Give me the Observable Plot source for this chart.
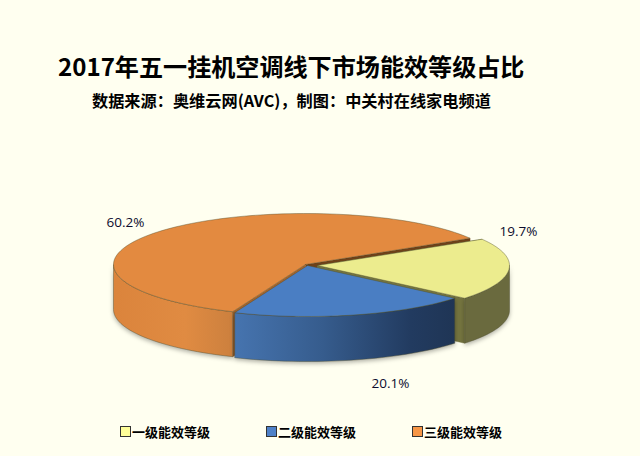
<!DOCTYPE html>
<html lang="zh">
<head>
<meta charset="utf-8">
<script src="https://cdn.jsdelivr.net/npm/d3@7"></script>
<script src="https://cdn.jsdelivr.net/npm/@observablehq/plot@0.6"></script>
<style>
html,body{margin:0;padding:0;background:#FFFFF0;}
#page{position:relative;width:640px;height:456px;overflow:hidden;font-family:"Noto Sans CJK SC",sans-serif;color:#000;}
#title{position:absolute;left:58px;top:48px;font-size:24.1px;line-height:36px;font-weight:700;white-space:nowrap;}
#subtitle{position:absolute;left:92px;top:88px;font-family:"Noto Sans CJK TC",sans-serif;font-size:16.2px;line-height:24px;font-weight:700;white-space:nowrap;}
#chart{position:absolute;left:0;top:120px;}
#legend span{position:absolute;top:423px;font-size:13px;line-height:18px;font-weight:700;white-space:nowrap;}
#legend i{position:absolute;top:426px;width:9px;height:9px;border:1px solid #333;}
</style>
</head>
<body>
<div id="page">
  <div id="title"></div>
  <div id="subtitle"></div>
  <div id="chart"></div>
  <div id="legend"></div>
</div>
<script>
const titleText = "2017年五一挂机空调线下市场能效等级占比";
const subtitleText = "数据来源：奥维云网(AVC)，制图：中关村在线家电频道";
const categories = ["一级能效等级", "二级能效等级", "三级能效等级"];
const shares = [19.7, 20.1, 60.2];

// styling and layout, separate from the data
const topColors = ["#ECEC8E", "#4A7EC3", "#E38A40"];
const wallColors = [["#5F5F34", "#74743F"], [], ["#A5642C", "#6E4119"]];
const sideFills = ["#6A6A3E", "url(#sideBlue)", "url(#sideOrange)"];
const legendColors = ["#FFFF99", "#4F81C8", "#F79646"];
const legendLefts = [120, 266, 412];
const labelSpots = [[210, 34], [82, -118], [-183, 43]];
const sliceShift = [[9, 0], [-1, 0], [-3, 1]];
const startAngle = 59, radiusX = 192, radiusY = 51, depth = 45;
const drawOrder = [2, 0, 1];

document.getElementById("title").textContent = titleText;
document.getElementById("subtitle").textContent = subtitleText;

const rad = d => d * Math.PI / 180;
let running = startAngle;
const slices = shares.map((share, i) => {
  const a0 = running, a1 = running + share * 3.6;
  running = a1;
  return {i, a0, a1, cx: sliceShift[i][0], cy: sliceShift[i][1]};
});
const rim = (s, a, drop = 0) => ({
  x: s.cx + radiusX * Math.sin(rad(a)),
  y: s.cy + radiusY * Math.cos(rad(a)) - drop
});
const arc = (s, a0, a1, drop = 0) => {
  const n = Math.max(2, Math.ceil(Math.abs(a1 - a0) / 2));
  return d3.range(n + 1).map(k => rim(s, a0 + (a1 - a0) * k / n, drop));
};
const closed = pts => [...pts, pts[0]];
const hub = (s, drop = 0) => ({x: s.cx, y: s.cy - drop});

const faces = [];
for (const idx of drawOrder) {
  const s = slices[idx];
  // the blue slice has no visible cut walls: both of them face away from the viewer
  if (idx !== 1) {
    [s.a1, s.a0].forEach((a, k) => {
      const colour = idx === 2 ? wallColors[2][k === 0 ? 1 : 0] : wallColors[idx][1];
      faces.push({pts: closed([hub(s), rim(s, a), rim(s, a, depth), hub(s, depth)]), fill: colour, stroke: colour});
    });
  }
  const f0 = Math.max(s.a0, 90), f1 = Math.min(s.a1, 270);
  faces.push({
    pts: closed([...arc(s, f0, f1), ...arc(s, f1, f0, depth)]),
    fill: sideFills[idx],
    stroke: "#4A4A2A",
    shadow: true
  });
  faces.push({pts: closed([hub(s), ...arc(s, s.a0, s.a1)]), fill: topColors[idx], stroke: "#4A4A2A"});
}

const gradient = (id, stops) => {
  const g = d3.create("svg:linearGradient").attr("id", id)
    .attr("x1", 0).attr("x2", 1).attr("y1", 0).attr("y2", 0);
  stops.forEach(([o, c]) => g.append("stop").attr("offset", o).attr("stop-color", c));
  return g.node();
};
const defsMark = () => {
  const defs = d3.create("svg:defs");
  defs.append(() => gradient("sideBlue", [[0, "#4674AF"], [0.4, "#365C8D"], [0.8, "#223B60"], [1, "#1F3555"]]));
  defs.append(() => gradient("sideOrange", [[0, "#DB843C"], [0.6, "#E08B42"], [1, "#CC803E"]]));
  return defs.node();
};

const labels = slices.map((s, i) => ({
  text: d3.format(".1f")(shares[i]) + "%",
  x: labelSpots[i][0],
  y: labelSpots[i][1]
}));

const chart = Plot.plot({
  width: 640,
  height: 280,
  margin: 0,
  x: {domain: [-308, 332], range: [0, 640], axis: null},
  y: {domain: [-135, 145], range: [280, 0], axis: null},
  style: {background: "transparent"},
  marks: [
    defsMark,
    ...faces.map(f => Plot.line(f.pts, {
      x: "x", y: "y",
      fill: f.fill,
      stroke: f.stroke,
      strokeWidth: 0.5,
      strokeOpacity: 0.8,
      imageFilter: f.shadow ? "drop-shadow(0 2px 2px rgba(0,0,0,.3))" : undefined
    })),
    Plot.text(labels, {
      x: "x", y: "y", text: "text",
      fontSize: 13.5,
      fontFamily: "'Open Sans', sans-serif",
      fill: "#0C0C2E"
    })
  ]
});
document.getElementById("chart").append(chart);

const legend = document.getElementById("legend");
categories.forEach((c, i) => {
  const box = document.createElement("i");
  box.style.left = legendLefts[i] + "px";
  box.style.background = legendColors[i];
  const label = document.createElement("span");
  label.style.left = legendLefts[i] + 12 + "px";
  label.textContent = c;
  legend.append(box, label);
});
</script>
</body>
</html>
